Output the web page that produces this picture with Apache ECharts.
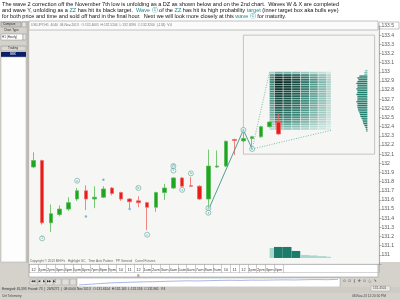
<!DOCTYPE html>
<html>
<head>
<meta charset="utf-8">
<script src="https://cdn.jsdelivr.net/npm/echarts@6/dist/echarts.min.js"></script>
<style>
html,body{margin:0;padding:0;background:#ffffff;}
#chart{width:400px;height:300px;}
</style>
</head>
<body>
<div id="chart"></div>
<script>
// ---------- data ----------
const times = ['Nov7 12:00','Nov7 13:00','Nov7 14:00','Nov7 15:00','Nov7 16:00','Nov7 17:00','Nov7 18:00','Nov7 19:00','Nov7 20:00','Nov7 21:00','Nov7 22:00','Nov7 23:00',
  'Nov8 00:00','Nov8 01:00','Nov8 02:00','Nov8 03:00','Nov8 04:00','Nov8 05:00','Nov8 06:00','Nov8 07:00','Nov8 08:00','Nov8 09:00','Nov8 10:00','Nov8 11:00','Nov8 12:00','Nov8 13:00','Nov8 14:00','Nov8 15:00','Nov8 16:00'];
const hourLabels = ['12','1pm','2pm','3pm','4pm','5pm','6pm','7pm','8pm','9pm','10','11','12','1am','2am','3am','4am','5am','6am','7am','8am','9am','10','11','12','1pm','2pm','3pm','4pm'];
const dayMarks = [[12, '8']];
const padSlots = 11;
// [open, close, low, high]
const candles = [
  [131.96,132.03,131.95,132.12],[132.03,131.35,131.33,132.04],[131.35,131.45,131.25,131.55],[131.44,131.50,131.42,131.54],
  [131.50,131.57,131.48,131.63],[131.61,131.70,131.59,131.73],[131.70,131.61,131.49,131.76],[131.61,131.63,131.51,131.75],
  [131.63,131.72,131.62,131.75],[131.73,131.67,131.65,131.74],[131.68,131.61,131.59,131.69],[131.61,131.58,131.51,131.62],
  [131.59,131.57,131.52,131.64],[131.57,131.52,131.27,131.58],[131.52,131.68,131.47,131.69],[131.68,131.73,131.60,131.775],
  [131.73,131.84,131.72,131.85],[131.84,131.75,131.74,131.85],[131.755,131.75,131.745,131.85],[131.75,131.61,131.60,131.76],
  [131.61,131.97,131.51,132.15],[131.96,131.97,131.95,132.14],[131.97,132.24,131.96,132.25],[132.26,132.25,132.09,132.27],
  [132.245,132.27,132.23,132.36],[132.27,132.29,132.16,132.30],[132.29,132.40,132.28,132.41],[132.40,132.45,132.39,132.46],
  [132.45,132.32,132.31,132.55]
];
const zigzag = [[20,131.49],[24,132.365],[25,132.156]];
const projectionUpper = [[25,132.156],[27,133.00]];
const projectionLower = [[25,132.156],[34,132.36]];
const outerBox = [24, 39, 133.40, 132.10];
const innerBox = [27, 34, 133.00, 132.36];
const targetTimeWeights = [0.55,1.0,0.95,0.82,0.62,0.45,0.3,0.18];
const targetPriceWeights = [0.35,0.75,0.95,1,1,0.98,0.96,0.93,0.9,0.88,0.86,0.84,0.82,0.8,0.77,0.74,0.71,0.68,0.64,0.6,0.54,0.47,0.4,0.32,0.22];
const profileTop = 133.02, profileStep = 0.02;
const profileVolume = [2,3,3,8,10,9,10,11,10,10,11,10,10,11,10,10,10,11,10,10,10,9.5,9,8,7.5,7,6,5,4.5,4,3,2,1.5,1];
const timeProfile = [[27,10,0],[28,11,1],[29,11,1],[30,7,1],[31,3,0],[32,2.5,0],[33,1.8,0],[34,1.2,0]];
const profileBase = 130.966;
const waveLabels = [[1,131.18,'1'],[5,131.81,'a'],[12,131.73,'b'],[13,131.22,'c'],[16,131.97,'W'],[16,131.92,'5'],
  [17,131.71,'x'],[18,131.89,'a'],[20,131.51,'X'],[20,131.46,'x'],[24,132.365,'a'],[25,132.156,'b']];
const signalDots = [[6,131.42],[8,131.82],[11,131.50]];
const overview = [0.15,0.25,0.35,0.45,0.5,0.55,0.6,0.62,0.66,0.7,0.74,0.72,0.76,0.8,0.82,0.8,0.84,0.83,0.86,0.88,0.86,0.9,0.92,0.9,0.95];

// ---------- helpers ----------
const categories = times.concat(Array.from({length: padSlots}, (_, i) => 'slot' + (i + 1)));
function teal(w){
  const s0=[232,244,240], s1=[62,142,128], s2=[6,40,34];
  let a, b, t;
  if (w < 0.5) { a = s0; b = s1; t = w / 0.5; } else { a = s1; b = s2; t = (w - 0.5) / 0.5; }
  return 'rgb(' + a.map((v,i)=>Math.round(v+(b[i]-v)*t)).join(',') + ')';
}
const cellData = [];
targetTimeWeights.forEach((tw, c) => {
  const step = (innerBox[2]-innerBox[3]) / targetPriceWeights.length;
  targetPriceWeights.forEach((pw, r) => {
    cellData.push([innerBox[0]+c, innerBox[2]-r*step, tw*pw, step]);
  });
});
const profileData = profileVolume.map((v,i)=>[38, profileTop - i*profileStep, v]);
const timeProfileData = timeProfile.map(t=>[t[0], profileBase, t[1], t[2]]);

const dayMap = {}; dayMarks.forEach(d => dayMap[d[0]] = d[1]);

const chart = echarts.init(document.getElementById('chart'), null, {renderer:'canvas'});
const TEAL = '#3c9488';
const FONT = 'Liberation Sans, Arial, sans-serif';

const para = [
  'The wave 2 correction off the November 7th low is unfolding as a DZ as shown below and on the 2nd chart.  Waves W & X are completed',
  'and wave Y, unfolding as a {t|ZZ} has hit its black target.  {t|Wave ⓒ} of the {t|ZZ} has hit its high probability {t|target} (inner target box aka bulls eye)',
  'for both price and time and sold off hard in the final hour.  Next we will look more closely at this {t|wave ⓒ} for maturity.'
].join('\n');

const UI = '#d5d2cc';
const graphics = [
  {type:'text', x:2, y:1, z:200, style:{text:para, fontSize:5.55, fontFamily:FONT, fill:'#111', lineHeight:6,
    rich:{t:{fontSize:5.55, fontFamily:FONT, fill:'#1b8a8c', lineHeight:6}}}},
  {type:'rect', z:150, shape:{x:29, y:21, width:349, height:9}, style:{fill:'#fbfbfb', stroke:'#9a9a9a', lineWidth:0.6}},
  {type:'text', x:31, y:23.5, z:151, style:{text:'USDJPY,H1  4040  08-Nov-2013   O:132.4605  H:132.5204  L:132.3096  C:132.3260  (-134)  V:0', fontSize:3.3, fontFamily:FONT, fill:'#777'}},
  {type:'rect', z:150, shape:{x:379, y:22, width:20, height:7}, style:{fill:'none', stroke:'#9a9a9a', lineWidth:0.6}},
  {type:'rect', z:150, shape:{x:0, y:21, width:29, height:242}, style:{fill:UI}},
  {type:'rect', z:151, shape:{x:1, y:22, width:20, height:5}, style:{fill:'#c9c6c0', stroke:'#888', lineWidth:0.5}},
  {type:'text', x:3, y:23, z:152, style:{text:'Compare', fontSize:3, fontFamily:FONT, fill:'#333'}},
  {type:'rect', z:151, shape:{x:22, y:22, width:4, height:5}, style:{fill:'#e8e6e2', stroke:'#888', lineWidth:0.5}},
  {type:'text', x:4, y:29, z:152, style:{text:'Chart Type', fontSize:3, fontFamily:FONT, fill:'#333'}},
  {type:'rect', z:151, shape:{x:1, y:34, width:22, height:6}, style:{fill:'#fff', stroke:'#888', lineWidth:0.5}},
  {type:'text', x:2, y:35.5, z:152, style:{text:'H1 (Hourly)', fontSize:3, fontFamily:FONT, fill:'#333'}},
  {type:'rect', z:151, shape:{x:23, y:34, width:3, height:6}, style:{fill:'#e8e6e2', stroke:'#888', lineWidth:0.5}},
  {type:'rect', z:151, shape:{x:1, y:46, width:25, height:5}, style:{fill:'#dcd9d3', stroke:'#888', lineWidth:0.5}},
  {type:'text', x:8, y:47, z:152, style:{text:'Trading', fontSize:3, fontFamily:FONT, fill:'#333'}},
  {type:'rect', z:151, shape:{x:1, y:52, width:25, height:5}, style:{fill:'#0a1f6b'}},
  {type:'text', x:10, y:53, z:152, style:{text:'BBK', fontSize:3, fontFamily:FONT, fill:'#fff'}},
  {type:'rect', z:151, shape:{x:1, y:57, width:25, height:205}, style:{fill:'#fdfdfd', stroke:'#aaa', lineWidth:0.5}},
  {type:'rect', z:151, shape:{x:26.5, y:21, width:2.5, height:242}, style:{fill:'#bdbab4'}},
  {type:'rect', z:-1, shape:{x:0, y:262, width:400, height:38}, style:{fill:UI}},
  {type:'rect', z:-1, shape:{x:29, y:263, width:349, height:14}, style:{fill:'#ffffff', stroke:'#999', lineWidth:0.6}},
  {type:'line', z:1, shape:{x1:29, y1:272.5, x2:378, y2:272.5}, style:{stroke:'#aaa', lineWidth:0.5}},
  {type:'text', x:30, y:259.5, z:10, style:{text:'Copyright © 2013 MH Fx   Highlight SC   Time Axis Pattern   PP General   Correl Futures', fontSize:3.2, fontFamily:FONT, fill:'#666'}},
  {type:'rect', z:5, shape:{x:30, y:279, width:7, height:6}, style:{fill:'#e2dfda', stroke:'#999', lineWidth:0.4}},
  {type:'rect', z:5, shape:{x:38, y:279, width:7, height:6}, style:{fill:'#e2dfda', stroke:'#999', lineWidth:0.4}},
  {type:'rect', z:5, shape:{x:46, y:279, width:7, height:6}, style:{fill:'#e2dfda', stroke:'#999', lineWidth:0.4}},
  {type:'rect', z:5, shape:{x:54, y:279, width:7, height:6}, style:{fill:'#e2dfda', stroke:'#999', lineWidth:0.4}},
  {type:'rect', z:5, shape:{x:62, y:279, width:7, height:6}, style:{fill:'#e2dfda', stroke:'#999', lineWidth:0.4}},
  {type:'rect', z:5, shape:{x:70, y:279, width:6, height:6}, style:{fill:'#e2dfda', stroke:'#999', lineWidth:0.4}},
  {type:'text', x:31, y:280, z:6, style:{text:'◀◀   ◀    ▶   ▶▶  ▶|', fontSize:3, fontFamily:FONT, fill:'#333'}},
  {type:'rect', z:0, shape:{x:77, y:278, width:263, height:9}, style:{fill:'#ffffff', stroke:'#999', lineWidth:0.5}},
  {type:'text', x:343, y:279.5, z:6, style:{text:'⊙  ⊡  ‖  ✥  ⊙  ○  ✎', fontSize:3.6, fontFamily:'DejaVu Sans', fill:'#555'}},
  {type:'rect', z:5, shape:{x:371, y:286, width:19, height:5}, style:{fill:'#eceae6', stroke:'#999', lineWidth:0.4}},
  {type:'text', x:373, y:287, z:6, style:{text:'131.4501', fontSize:3.2, fontFamily:FONT, fill:'#444'}},
  {type:'rect', z:4, shape:{x:0, y:287, width:400, height:6}, style:{fill:'#cfccc6'}},
  {type:'text', x:2, y:288, z:6, style:{text:'Emerged: 45,593  Found: 73  |  26/9/271  |  08:00:00 Nov 2013   O:131.6104  H:132.165  L:131.536  C:131.961  V:3', fontSize:3.2, fontFamily:FONT, fill:'#333'}},
  {type:'text', x:2, y:295, z:6, style:{text:'Ctrl Telemetry', fontSize:3.2, fontFamily:FONT, fill:'#444'}},
  {type:'text', x:352, y:294.5, z:6, style:{text:'08-Nov-13 12:20:50 PM', fontSize:3.2, fontFamily:FONT, fill:'#444'}}
];

const option = {
  animation:false,
  backgroundColor:'#ffffff',
  textStyle:{fontFamily:FONT},
  grid:[
    {left:29, right:21, top:26, bottom:36, show:true, backgroundColor:'#f6f6f4', borderColor:'#cfcfcf', borderWidth:0.5},
    {left:79, width:259, top:279, height:7, show:false}
  ],
  xAxis:[
    {type:'category', gridIndex:0, data:categories, boundaryGap:true,
     axisLine:{show:true, lineStyle:{color:'#999', width:0.6}},
     axisTick:{show:true, interval:(i)=> i <= times.length, length:9, lineStyle:{color:'#aaa', width:0.6}},
     axisLabel:{interval:0, fontSize:4, color:'#444', margin:2.5, lineHeight:6,
       formatter:(v,i)=> i < hourLabels.length ? hourLabels[i] + (dayMap[i] ? '\n' + dayMap[i] : '') : ''},
     splitLine:{show:false}},
    {type:'category', gridIndex:1, data:overview.map((_,i)=>i), show:false, boundaryGap:false}
  ],
  yAxis:[
    {type:'value', gridIndex:0, position:'right', min:130.9, max:133.5, interval:0.1,
     axisLine:{show:true, lineStyle:{color:'#888', width:0.6}},
     axisTick:{show:true, length:2.5, lineStyle:{color:'#888', width:0.6}},
     minorTick:{show:true, splitNumber:5, length:1.2, lineStyle:{color:'#aaa', width:0.5}},
     axisLabel:{fontSize:5, color:'#555', margin:2.5, formatter:(v)=> v < 130.95 ? '' : String(+v.toFixed(1))},
     splitLine:{show:false}},
    {type:'value', gridIndex:1, show:false, min:0, max:1}
  ],
  graphic:graphics,
  series:[
    {type:'custom', name:'targetBox', xAxisIndex:0, yAxisIndex:0, z:2, silent:true, data:cellData,
     renderItem:(params, api)=>{
       const cat = api.value(0), top = api.value(1), w = api.value(2), step = api.value(3);
       const band = api.size([1,0])[0];
       const cx = api.coord([cat, top])[0];
       const lx = api.coord([innerBox[0], top])[0];
       const rx = api.coord([innerBox[1], top])[0];
       const x0 = Math.max(cx - band/2, lx), x1 = Math.min(cx + band/2, rx);
       const y0 = api.coord([cat, top])[1], y1 = api.coord([cat, top - step])[1];
       const gapL = x0 > lx + 0.1 ? 0.6 : 0;
       return {type:'rect', shape:{x:x0+gapL, y:y0, width:Math.max(0, x1-x0-gapL), height:Math.max(0, y1-y0-0.45)}, style:{fill:teal(w)}};
     }},
    {type:'custom', name:'priceProfile', xAxisIndex:0, yAxisIndex:0, z:2, silent:true, data:profileData,
     renderItem:(params, api)=>{
       const p = api.coord([api.value(0), api.value(1)]);
       const p2 = api.coord([api.value(0), api.value(1) - profileStep]);
       const v = api.value(2);
       return {type:'rect', shape:{x:p[0]+1.5 - v, y:p[1], width:v, height:Math.max(0.5, p2[1]-p[1]-0.5)},
         style:{fill: v < 5 && params.dataIndex < 4 ? '#7cbdb2' : '#1f7d6c'}};
     }},
    {type:'custom', name:'timeProfile', xAxisIndex:0, yAxisIndex:0, z:2, silent:true, data:timeProfileData,
     renderItem:(params, api)=>{
       const cat = api.value(0), h = api.value(2), tone = api.value(3);
       const band = api.size([1,0])[0];
       const c = api.coord([cat, api.value(1)]);
       const lx = api.coord([innerBox[0], api.value(1)])[0];
       const rx = api.coord([innerBox[1], api.value(1)])[0];
       const x0 = Math.max(c[0]-band/2, lx), x1 = Math.min(c[0]+band/2, rx);
       return {type:'rect', shape:{x:x0, y:c[1]-h, width:x1-x0, height:h}, style:{fill: tone ? '#1d7b6b' : '#a9d6cd'}};
     }},
    {type:'candlestick', name:'USDJPY', xAxisIndex:0, yAxisIndex:0, data:candles, barWidth:4, z:5,
     itemStyle:{color:'#1fa61f', color0:'#ea1c18', borderColor:'#55bb55', borderColor0:'#ee6a66', borderWidth:0.8},
     markArea:{silent:true, itemStyle:{color:'rgba(0,0,0,0)', borderColor:'#b8b8b8', borderWidth:0.8},
       data:[[{xAxis:outerBox[0], yAxis:outerBox[2]},{xAxis:outerBox[1], yAxis:outerBox[3]}]]}},
    {type:'line', name:'zigzag', xAxisIndex:0, yAxisIndex:0, data:zigzag, z:6, symbol:'none',
     lineStyle:{color:TEAL, width:0.9}},
    {type:'line', name:'projU', xAxisIndex:0, yAxisIndex:0, data:projectionUpper, z:6, symbol:'none',
     lineStyle:{color:'#5aa89e', width:0.8, type:[1,1.5]}},
    {type:'line', name:'projL', xAxisIndex:0, yAxisIndex:0, data:projectionLower, z:6, symbol:'none',
     lineStyle:{color:'#5aa89e', width:0.8, type:[1,1.5]}},
    {type:'scatter', name:'waves', xAxisIndex:0, yAxisIndex:0, z:7, data:waveLabels, symbol:'circle', symbolSize:5,
     itemStyle:{color:'rgba(240,248,246,0.9)', borderColor:'#4d9c92', borderWidth:0.7},
     label:{show:true, position:'inside', formatter:(p)=>p.data[2], fontSize:3, color:'#2b7a70'}},
    {type:'scatter', name:'signals', xAxisIndex:0, yAxisIndex:0, z:7, data:signalDots, symbol:'circle', symbolSize:2.5,
     itemStyle:{color:'#6aa6c8'}},
    {type:'line', name:'overview', xAxisIndex:1, yAxisIndex:1, data:overview, symbol:'none',
     lineStyle:{color:'#6f86cf', width:0.6}}
  ]
};
chart.setOption(option);
</script>
</body>
</html>
